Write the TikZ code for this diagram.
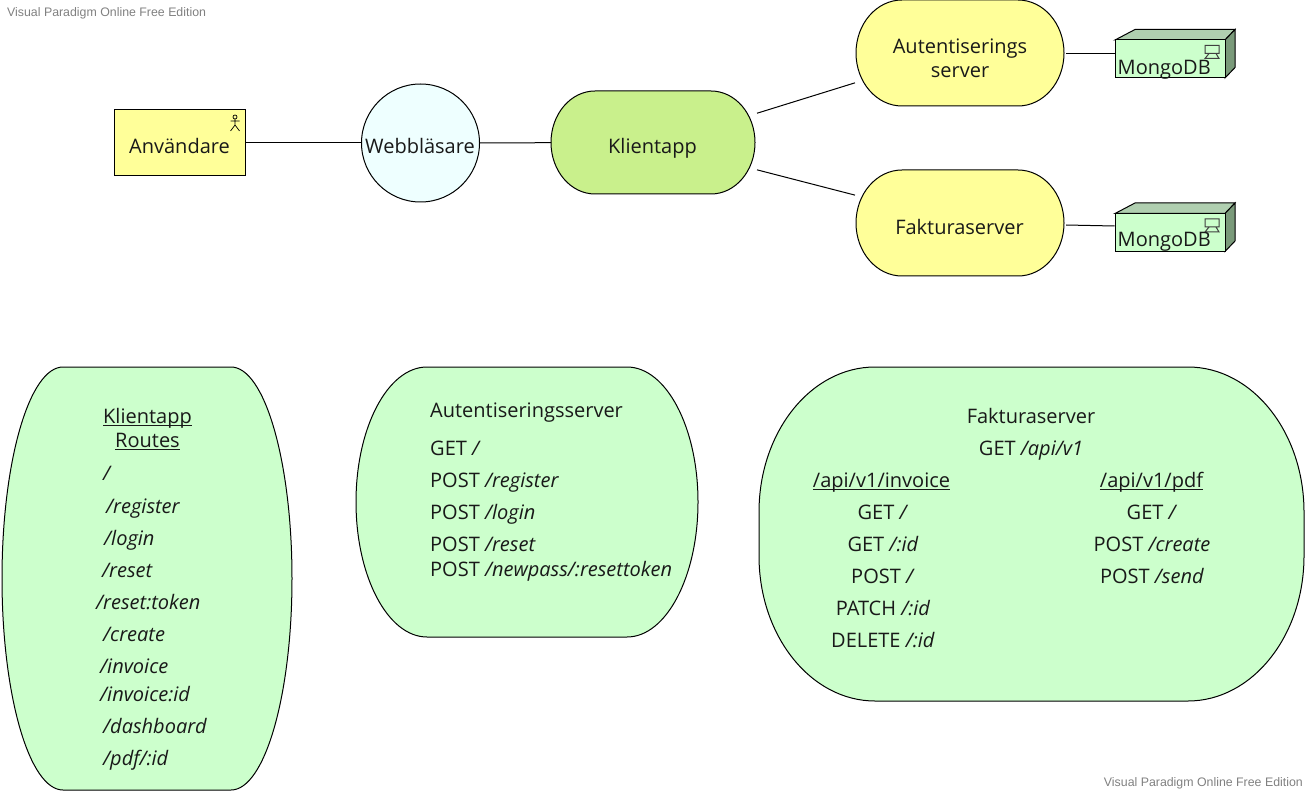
\documentclass[tikz,border=0pt]{standalone}
\usepackage{fontspec}
\setmainfont{Open Sans}
\newfontfamily\markfont{Liberation Sans}
\definecolor{useryellow}{HTML}{FFFF99}
\definecolor{browserblue}{HTML}{EEFFFF}
\definecolor{clientgreen}{HTML}{C9F08C}
\definecolor{panelgreen}{HTML}{CCFFCC}
\definecolor{boxtop}{HTML}{B0CFB0}
\definecolor{boxside}{HTML}{7A9A7A}
\definecolor{markgrey}{HTML}{808080}
\usetikzlibrary{positioning,calc}
\tikzset{%
  every oval/.style={draw=black,line width=1pt},
  oval text/.style={inner sep=0,outer sep=0,align=center,font=\fontsize{20}{24}\selectfont},
}
% name, left, top, right, bottom, x radius, y radius, fill, text
\newcommand{\ovalnode}[9]{%
  \path[every oval,fill=#8] ({#2},{#3+#7})
    .. controls +(0,{-.552*#7}) and +({-.552*#6},0) .. ({#2+#6},#3) -- ({#4-#6},#3)
    .. controls +({.552*#6},0) and +(0,{-.552*#7}) .. (#4,{#3+#7}) -- (#4,{#5-#7})
    .. controls +(0,{.552*#7}) and +({.552*#6},0) .. ({#4-#6},#5) -- ({#2+#6},#5)
    .. controls +({-.552*#6},0) and +(0,{.552*#7}) .. (#2,{#5-#7}) -- cycle;
  \node[oval text,minimum width={(#4-#2)*1pt},minimum height={(#5-#3)*1pt}] (#1) at ({(#2+#4)/2},{(#3+#5)/2}) {#9};
}
\newcommand{\ultext}[1]{\setbox0\hbox{#1}\rlap{\rule[-3.3pt]{\wd0}{1pt}}\box0}
\begin{document}
\begin{tikzpicture}[
            x=1pt,y=-1pt,
            plain/.style={
              inner sep=0,
              font=\fontsize{20}{24}\selectfont,
              text=black!90,
              anchor=base
              },
            plainleft/.style={
              plain,
              anchor=base west
              },
            watermark/.style={
              inner sep=0,
              font=\markfont\fontsize{12.35}{14}\selectfont,
              text=markgrey
              },
            actorbox/.style={
              draw,
              fill=useryellow,
              line width=1pt,
              inner sep=0,
              minimum width=131pt,
              minimum height=66pt
              },
            browser/.style={
              draw,
              circle,
              fill=browserblue,
              line width=1pt,
              inner sep=0,
              minimum size=118pt
              },
            dbfront/.style={
              draw,
              fill=panelgreen,
              line width=1pt,
              inner sep=0,
              minimum width=110pt,
              minimum height=38pt
              },
            wire/.style={line width=1pt}
            ]
            \useasboundingbox (0,0) rectangle (1308,791);

            \node[watermark,anchor=base west] (markone) at (7,16.5) {Visual Paradigm Online Free Edition};
            \node[watermark,anchor=base east] (marktwo) at (1303,786) {Visual Paradigm Online Free Edition};

            \node[actorbox] (user) at (180,143) {};
            \node[plain] (usertext) at (179.5,154) {Användare};
            \draw[line width=.7pt] (235,117) circle (2) (235,119) -- (235,125) (230.5,121) -- (239.5,121)
              (230.5,131) -- (235,125) -- (239.5,131);

            \node[browser] (web) at (420.5,143) {};
            \node[plain] (webtext) at (420,154) {Webbläsare};

            \ovalnode{client}{551}{91}{755}{194}{44}{51.5}{clientgreen}{}
            \node[plain] (clienttext) at (652.5,154) {Klientapp};
            \ovalnode{auth}{856}{0}{1064}{106}{46}{53}{useryellow}{}
            \node[plain] (authone) at (960,54) {Autentiserings};
            \node[plain] (authtwo) at (960,78) {server};
            \ovalnode{bill}{856}{170}{1064}{276}{46}{53}{useryellow}{}
            \node[plain] (billtext) at (959.5,235) {Fakturaserver};

            \foreach \dbname/\dby/\dbtext in {dbone/59/75,dbtwo/232.5/247}
            {
              \draw[line width=1pt,fill=boxtop] ($(1115,\dby)+(0,-19)$) -- ++(20,-10.5) -- ++(100,0) -- ++(-10,10.5) -- cycle;
              \draw[line width=1pt,fill=boxside] ($(1225,\dby)+(0,-19)$) -- ++(10,-10.5) -- ++(0,38) -- ++(-10,10.5) -- cycle;
              \node[dbfront] (\dbname) at (1170,\dby) {};
              \draw[line width=1pt,draw=black!75] ($(1205,\dby)+(0,-13.5)$) rectangle +(14,8)
                ($(1209,\dby)+(0,-5.5)$) -- +(-4,5) -- +(10,5) -- +(7,0);
              \node[plainleft] (\dbname text) at (1117.5,\dbtext) {MongoDB};
            }

            \draw[wire] (user) -- (web);
            \draw[wire] (web) -- (client);
            \draw[wire] ($(client.16.5)+(2,0)$) -- ($(auth.196.5)+(-1,0)$);
            \draw[wire] ($(client.-15)+(2,0)$) -- ($(bill.165)+(-1,0)$);
            \draw[wire] ($(auth.east)+(2,1)$) -- ($(dbone.west)+(0,-5)$);
            \draw[wire] ($(bill.east)+(2,2)$) -- ($(dbtwo.west)+(0,-6.5)$);

            \ovalnode{routes}{2}{367}{292}{790}{61}{211.5}{panelgreen}{}
            \node[plain] (routeone) at (147.5,423) {\ultext{Klientapp}};
            \node[plain] (routetwo) at (147.5,447) {\ultext{Routes}};
            \foreach \ry/\rx/\rt in {480/103/{/},513/106/{/register},545/104/{/login},577/102/{/reset},
              609/96/{/reset:token},641/103/{/create},673/100/{/invoice},701/100/{/invoice:id},
              733/103/{/dashboard},765/103/{/pdf/:id}}
              \node[plainleft] (route-\ry) at (\rx,\ry) {\itshape \rt};

            \ovalnode{authpanel}{356}{367}{698}{637}{71}{135}{panelgreen}{}
            \foreach \ay/\am/\at in {417/Autentiseringsserver/{},455/GET/{/},487/POST/{/register},519/POST/{/login},
              551/POST/{/reset},576/POST/{/newpass/:resettoken}}
              \node[plainleft] (authline-\ay) at (430,\ay) {\am{} \textit{\at}};

            \ovalnode{billpanel}{759}{367}{1304}{701}{116}{145}{panelgreen}{}
            \node[plain] (billhead) at (1031,423) {Fakturaserver};
            \node[plain] (billroot) at (1031,455) {GET \textit{/api/v1}};
            \node[plain] (invoicehead) at (881.5,487) {\ultext{/api/v1/invoice}};
            \node[plain] (pdfhead) at (1151.5,487) {\ultext{/api/v1/pdf}};
            \foreach \by/\bm/\bt in {519/GET/{/},551/GET/{/:id},583/POST/{/},615/PATCH/{/:id},647/DELETE/{/:id}}
              \node[plain] (invoice-\by) at (883,\by) {\bm{} \textit{\bt}};
            \foreach \by/\bm/\bt in {519/GET/{/},551/POST/{/create},583/POST/{/send}}
              \node[plain] (pdf-\by) at (1152,\by) {\bm{} \textit{\bt}};
\end{tikzpicture}
\end{document}
